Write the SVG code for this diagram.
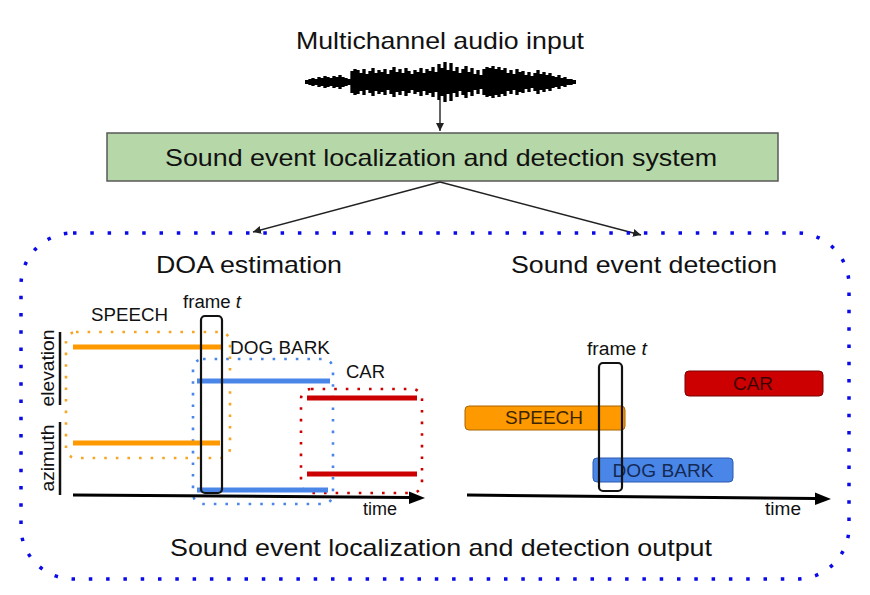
<svg xmlns="http://www.w3.org/2000/svg" width="870" height="595" viewBox="0 0 870 595">
<style>
text{font-family:"Liberation Sans",Arial,sans-serif;fill:#111}
.big{font-size:24px}
.sm{font-size:18px}
.conn{stroke:#222;stroke-width:1.4;fill:none}
.axis{stroke:#000;stroke-width:3;fill:none}
.frame{fill:none;stroke:#111;stroke-width:2.2}
.dotbox{fill:none;stroke-width:2.6;stroke-dasharray:2.6 9;stroke-linecap:butt}
.seg{stroke-width:5;fill:none}
</style>
<defs>
<marker id="ah" viewBox="0 0 10 10" refX="10" refY="5" markerWidth="8" markerHeight="8" markerUnits="userSpaceOnUse" orient="auto"><path d="M0,0L10,5L0,10z" fill="#222"/></marker>
</defs>
<rect width="870" height="595" fill="#fff"/>

<g id="input">
<text class="big" x="440" y="49" text-anchor="middle" textLength="288" lengthAdjust="spacingAndGlyphs">Multichannel audio input</text>
<path d="M305 82H576" stroke="#000" stroke-width="4"/>
<path stroke="#000" stroke-width="3.3" d="M307 80V84M310 79V85M313 78V86M316 79V85M319 77V87M322 78V86M325 76V88M328 77V87M331 78V86M334 76V88M337 77V87M340 75V89M343 77V87M346 78V86M349 79V85M352 71V93M355 69V95M358 70V94M361 73V91M364 69V95M367 74V90M370 71V93M373 68V96M376 73V91M379 70V94M382 72V92M385 69V95M388 74V90M391 70V94M394 67V97M397 72V92M400 69V95M403 73V91M406 68V96M409 71V93M412 74V90M415 70V94M418 72V92M421 68V96M424 73V91M427 69V95M430 71V93M433 67V97M436 72V92M439 64V100M442 68V96M445 62V102M448 70V94M451 63V101M454 71V93M457 67V97M460 73V91M463 69V95M466 66V98M469 72V92M472 68V96M475 74V90M478 70V94M481 75V89M484 69V95M487 67V97M490 68V96M493 66V98M496 69V95M499 67V97M502 70V94M505 68V96M508 73V91M511 70V94M514 74V90M517 69V95M520 72V92M523 71V93M526 75V89M529 72V92M532 76V88M535 73V91M538 70V94M541 74V90M544 72V92M547 75V89M550 73V91M553 76V88M556 77V87M559 75V89M562 78V86M565 77V87M568 79V85M571 79V85M574 80V84"/>
</g>

<g id="system">
<rect x="107" y="133" width="671" height="48" fill="#b6d7a8" stroke="#595959" stroke-width="1.5"/>
<text class="big" x="441" y="166" text-anchor="middle" textLength="552" lengthAdjust="spacingAndGlyphs">Sound event localization and detection system</text>
</g>

<g id="connectors">
<line class="conn" x1="440" y1="100" x2="440" y2="131" marker-end="url(#ah)"/>
<line class="conn" x1="440" y1="182" x2="253" y2="232" marker-end="url(#ah)"/>
<line class="conn" x1="440" y1="182" x2="641" y2="235" marker-end="url(#ah)"/>
</g>

<g id="output">
<rect x="21" y="233" width="828" height="346" rx="52" fill="none" stroke="#0a0ae8" stroke-width="3.5" stroke-dasharray="3.5 13.8"/>
<text class="big" x="249" y="273" text-anchor="middle" textLength="186" lengthAdjust="spacingAndGlyphs">DOA estimation</text>
<text class="big" x="644" y="273" text-anchor="middle" textLength="266" lengthAdjust="spacingAndGlyphs">Sound event detection</text>
<text class="big" x="441" y="556" text-anchor="middle" textLength="542" lengthAdjust="spacingAndGlyphs">Sound event localization and detection output</text>
</g>

<g id="doa">
<rect class="dotbox" x="66" y="332" width="164" height="126" rx="10" stroke="#f6a623"/>
<rect class="dotbox" x="193" y="359" width="140" height="145" rx="10" stroke="#4a86e8"/>
<rect class="dotbox" x="301" y="389" width="121" height="104" rx="10" stroke="#cc0000"/>
<line x1="60" y1="332" x2="60" y2="405" stroke="#111" stroke-width="2.5"/>
<line x1="60" y1="422" x2="60" y2="495" stroke="#111" stroke-width="2.5"/>
<text class="sm" transform="translate(54,368) rotate(-90)" text-anchor="middle" textLength="77" lengthAdjust="spacingAndGlyphs">elevation</text>
<text class="sm" transform="translate(54,458) rotate(-90)" text-anchor="middle" textLength="67" lengthAdjust="spacingAndGlyphs">azimuth</text>
<line class="seg" x1="73" y1="347" x2="222" y2="347" stroke="#ff9900"/>
<line class="seg" x1="73" y1="443" x2="220" y2="443" stroke="#ff9900"/>
<line class="seg" x1="197" y1="381" x2="330" y2="381" stroke="#4a86e8"/>
<line class="seg" x1="197" y1="490" x2="328" y2="490" stroke="#4a86e8"/>
<line class="seg" x1="307" y1="398" x2="417" y2="398" stroke="#cc0000"/>
<line class="seg" x1="307" y1="474" x2="417" y2="474" stroke="#cc0000"/>
<rect class="frame" x="201" y="316" width="21" height="177" rx="4"/>
<path class="axis" d="M73 495L410 497.5"/>
<path d="M409 491.5L425 498L409 504z" fill="#000"/>
<text class="sm" x="91" y="321" textLength="77" lengthAdjust="spacingAndGlyphs">SPEECH</text>
<text class="sm" x="183" y="308" textLength="58" lengthAdjust="spacingAndGlyphs">frame <tspan font-style="italic">t</tspan></text>
<text class="sm" x="230" y="354" textLength="100" lengthAdjust="spacingAndGlyphs">DOG BARK</text>
<text class="sm" x="346" y="378" textLength="39" lengthAdjust="spacingAndGlyphs">CAR</text>
<text class="sm" x="363" y="515" textLength="34" lengthAdjust="spacingAndGlyphs">time</text>
</g>

<g id="sed">
<rect x="685" y="371" width="138" height="25" rx="4" fill="#cc0000" stroke="#7a0000" stroke-width="1"/>
<text class="sm" x="753" y="390" text-anchor="middle" style="fill:#3d0000" textLength="40" lengthAdjust="spacingAndGlyphs">CAR</text>
<rect x="465" y="406" width="160" height="24" rx="4" fill="#ff9900" stroke="#a86400" stroke-width="1"/>
<text class="sm" x="544" y="424" text-anchor="middle" style="fill:#3d2500" textLength="78" lengthAdjust="spacingAndGlyphs">SPEECH</text>
<rect x="593" y="458" width="140" height="24" rx="4" fill="#4a86e8" stroke="#2a5bb0" stroke-width="1"/>
<text class="sm" x="663" y="477" text-anchor="middle" style="fill:#142a55" textLength="101" lengthAdjust="spacingAndGlyphs">DOG BARK</text>
<rect class="frame" x="599" y="363" width="23" height="128" rx="4"/>
<path class="axis" d="M467 495L816 498.5"/>
<path d="M815 492.5L831 499L815 505z" fill="#000"/>
<text class="sm" x="587" y="355" textLength="60" lengthAdjust="spacingAndGlyphs">frame <tspan font-style="italic">t</tspan></text>
<text class="sm" x="765" y="515" textLength="36" lengthAdjust="spacingAndGlyphs">time</text>
</g>
</svg>
